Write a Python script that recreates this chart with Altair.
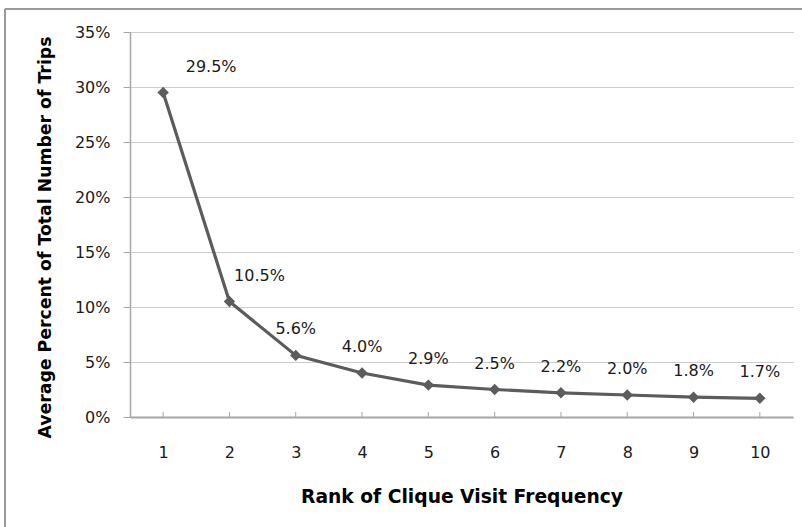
import altair as alt
import pandas as pd

# Rank of clique visit frequency and average share of trips
ranks = [1, 2, 3, 4, 5, 6, 7, 8, 9, 10]
share = [0.295, 0.105, 0.056, 0.040, 0.029, 0.025, 0.022, 0.020, 0.018, 0.017]

df = pd.DataFrame({"rank": ranks, "share": share})

W, H = 663, 385
FONT = "DejaVu Sans"
LINE = "#5c5c5c"
AXIS_GREY = "#a6a6a6"

x_enc = alt.X(
    "rank:Q",
    scale=alt.Scale(domain=[0.5, 10.5], nice=False, zero=False),
    axis=alt.Axis(
        values=ranks,
        format="d",
        title="Rank of Clique Visit Frequency",
        grid=False,
        ticks=False,
        tickSize=0,
        domainColor=AXIS_GREY,
        domainWidth=2,
        labelPadding=27,
        labelFont=FONT,
        labelFontSize=16,
        labelColor="#1a1a1a",
        titleFont=FONT,
        titleFontSize=18.7,
        titleFontWeight="bold",
        titleColor="#000000",
        titleBaseline="alphabetic",
        titleY=85,
    ),
)

y_enc = alt.Y(
    "share:Q",
    scale=alt.Scale(domain=[0, 0.35], nice=False),
    axis=alt.Axis(
        values=[0, 0.05, 0.10, 0.15, 0.20, 0.25, 0.30, 0.35],
        format=".0%",
        title="Average Percent of Total Number of Trips",
        grid=True,
        gridColor="#9a9a9a",
        gridDash=[1, 1],
        gridWidth=1,
        domainColor=AXIS_GREY,
        domainWidth=1.5,
        tickColor=AXIS_GREY,
        tickSize=7,
        labelPadding=13,
        labelFont=FONT,
        labelFontSize=16,
        labelColor="#1a1a1a",
        titleFont=FONT,
        titleFontSize=17.3,
        titleFontWeight="bold",
        titleColor="#000000",
        titleAngle=-90,
        titleAlign="center",
        titleBaseline="middle",
        titleX=-85,
        titleY=205,
    ),
)

base = alt.Chart(df)

line = base.mark_line(color=LINE, strokeWidth=3.2).encode(x=x_enc, y=y_enc)

points = base.mark_point(
    shape="diamond", filled=True, size=130, color=LINE, opacity=1
).encode(x="rank:Q", y="share:Q")

# small inward tick marks on the category axis
inner_ticks = base.mark_rule(color=AXIS_GREY, strokeWidth=1).encode(
    x="rank:Q", y=alt.value(H - 5), y2=alt.value(H)
)


def labels(data_filter, dx):
    return (
        base.transform_filter(data_filter)
        .mark_text(
            font=FONT,
            fontSize=16,
            color="#1a1a1a",
            dx=dx,
            dy=-26,
            baseline="middle",
            align="center",
        )
        .encode(x="rank:Q", y="share:Q", text=alt.Text("share:Q", format=".1%"))
    )


lab1 = labels(alt.datum.rank == 1, 48)
lab2 = labels(alt.datum.rank == 2, 30)
lab_rest = labels(alt.datum.rank > 2, 0)

# chart frame (top and left edges)
frame_top = base.mark_rule(color="#999999", strokeWidth=2).encode(
    x=alt.value(-125), x2=alt.value(W + 20), y=alt.value(-23)
)
frame_left = base.mark_rule(color="#999999", strokeWidth=2).encode(
    x=alt.value(-125), y=alt.value(-23), y2=alt.value(H + 120)
)

chart = (
    alt.layer(frame_top, frame_left, inner_ticks, line, points, lab1, lab2, lab_rest)
    .properties(
        width=W,
        height=H,
        autosize=alt.AutoSizeParams(type="none"),
        padding={"left": 130, "top": 32, "right": 9, "bottom": 110},
        background="white",
    )
    .configure_view(stroke=None)
)

chart.save("out.html", embed_options={"renderer": "svg", "actions": False})
